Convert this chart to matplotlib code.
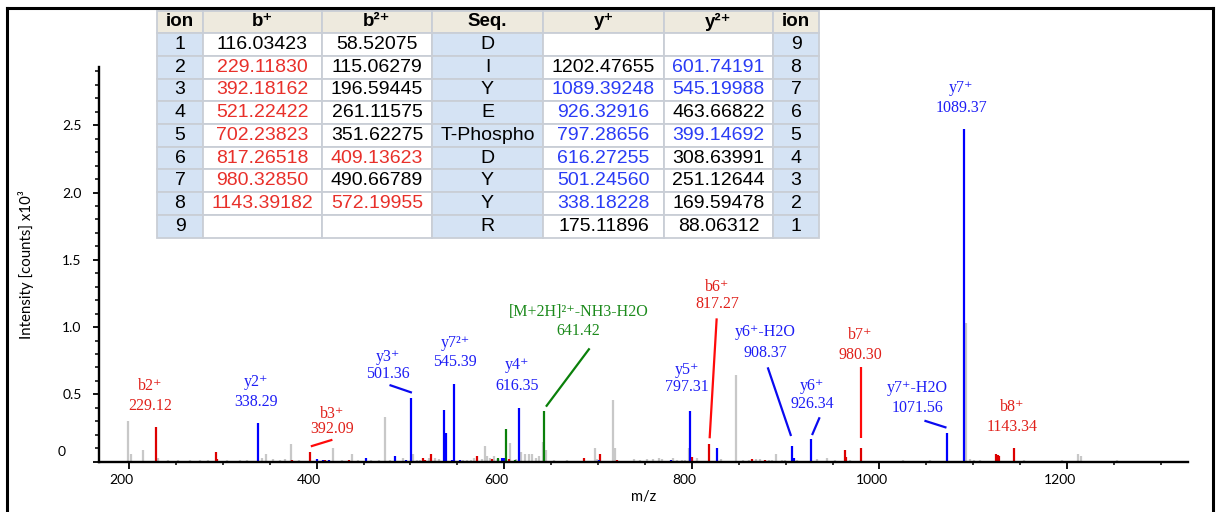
import matplotlib
matplotlib.use('Agg')
import matplotlib.pyplot as plt
from matplotlib.lines import Line2D
from matplotlib.ticker import MultipleLocator, FixedLocator

# ---------------- data ----------------
gray_mz = [199.3, 201.8, 215.3, 231, 241.6, 252, 265, 276, 284, 304, 318, 325.5, 342, 346, 354, 361, 366,
           372.8, 381.7, 417.3, 427, 438, 444.6, 457.8, 466, 473.4, 477.7, 492.6, 502.6, 507, 510.4, 519.6,
           526.4, 530, 556, 560, 565, 567.3, 576, 579.7, 582, 585, 589.3, 606.4, 612.8, 618, 622.4, 626,
           629.6, 634, 636.6, 640.9, 644.5, 652.6, 666.9, 696.4, 698.9, 716, 718.4, 738, 745, 752, 759,
           764.6, 768, 780, 784, 789.5, 793, 796.6, 805.6, 831, 847, 855, 860.6, 868.8, 872.3, 882, 885.5,
           889.8, 896, 899.7, 912, 933.5, 944.2, 953, 969, 1025.3, 1053.7, 1092.3, 1096.3, 1100.6, 1107,
           1154, 1194.9, 1212, 1214.4, 1253.5]
gray_int = [0.305, 0.057, 0.087, 0.025, 0.015, 0.012, 0.015, 0.012, 0.015, 0.015, 0.012, 0.015, 0.025, 0.057,
            0.02, 0.015, 0.02, 0.131, 0.015, 0.10, 0.015, 0.055, 0.01, 0.01, 0.012, 0.335, 0.015, 0.025,
            0.057, 0.015, 0.015, 0.03, 0.03, 0.02, 0.015, 0.015, 0.015, 0.025, 0.02, 0.117, 0.04, 0.03, 0.04,
            0.137, 0.02, 0.074, 0.057, 0.057, 0.057, 0.03, 0.04, 0.15, 0.087, 0.01, 0.01, 0.10, 0.02, 0.458,
            0.10, 0.02, 0.015, 0.02, 0.02, 0.025, 0.02, 0.03, 0.015, 0.015, 0.015, 0.10, 0.025, 0.02, 0.645,
            0.015, 0.015, 0.02, 0.02, 0.015, 0.015, 0.055, 0.015, 0.015, 0.015, 0.02, 0.025, 0.01, 0.015,
            0.01, 0.01, 1.03, 0.02, 0.015, 0.015, 0.01, 0.01, 0.057, 0.045, 0.01]

red_mz = [228.5, 292.5, 294, 373.5, 393, 408.7, 434, 513.2, 515.7, 522, 570.9, 586.9, 604.6, 684.6, 702.4,
          720.2, 800.2, 818, 864, 878.4, 963, 964.8, 980.8, 1124.8, 1126.2, 1128, 1143]
red_int = [0.255, 0.07, 0.02, 0.012, 0.07, 0.012, 0.015, 0.025, 0.012, 0.057, 0.04, 0.02, 0.02, 0.025, 0.057,
           0.012, 0.035, 0.13, 0.02, 0.012, 0.087, 0.035, 0.10, 0.057, 0.05, 0.04, 0.10]

blue_mz = [337.3, 400.2, 406.6, 413, 452.8, 484, 495.5, 500.1, 535.3, 537.8, 544.2, 546.3, 553, 593.9, 598,
           599, 600, 615.7, 700.6, 778, 797.7, 826.9, 906.9, 908.6, 927.1, 1071.8, 1090]
blue_int = [0.285, 0.02, 0.012, 0.012, 0.025, 0.04, 0.015, 0.473, 0.384, 0.213, 0.015, 0.58, 0.012, 0.02, 0.025,
            0.025, 0.025, 0.397, 0.015, 0.015, 0.38, 0.10, 0.117, 0.03, 0.166, 0.21, 2.47]

green_mz = [592.9, 602.1, 611, 642.3]
green_int = [0.025, 0.243, 0.01, 0.38]

# annotations: name, value, series, (x, y_name, y_value), leader line
ann_names = ['b2⁺', 'y2⁺', 'b3⁺', 'y3⁺', 'y7²⁺', 'y4⁺', '[M+2H]²⁺-NH3-H2O', 'y5⁺', 'b6⁺',
             'y6⁺-H2O', 'y6⁺', 'b7⁺', 'y7⁺-H2O', 'y7⁺', 'b8⁺']
ann_values = ['229.12', '338.29', '392.09', '501.36', '545.39', '616.35', '641.42', '797.31', '817.27',
              '908.37', '926.34', '980.30', '1071.56', '1089.37', '1143.34']
ann_series = ['b', 'y', 'b', 'y', 'y', 'y', 'm', 'y', 'b', 'y', 'y', 'b', 'y', 'y', 'b']
ann_pos = [(222.4, 0.5625, 0.416), (335.5, 0.593, 0.444), (416.5, 0.354, 0.243), (476.3, 0.778, 0.652),
           (547.7, 0.882, 0.741), (613.9, 0.717, 0.561), (679, 1.114, 0.971), (795.2, 0.681, 0.553),
           (827.2, 1.298, 1.17), (878.4, 0.961, 0.81), (928.5, 0.562, 0.429), (979.7, 0.94, 0.79),
           (1040.5, 0.545, 0.397), (1087.5, 2.774, 2.626), (1141.9, 0.404, 0.26)]
ann_leaders = [None, None, ((393.8, 0.114), (416.8, 0.163)), ((501.6, 0.513), (477.7, 0.57)), None, None,
               ((644.5, 0.409), (691, 0.842)), None, ((819, 0.174), (826.5, 1.065)),
               ((905.8, 0.191), (880.9, 0.701)), ((928.2, 0.198), (936.3, 0.33)),
               ((980.8, 0.174), (980.8, 0.706)), ((1071.5, 0.253), (1048, 0.305)), None, None]

# table
tbl_headers = ['ion', 'b⁺', 'b²⁺', 'Seq.', 'y⁺', 'y²⁺', 'ion']
ion_num = [1, 2, 3, 4, 5, 6, 7, 8, 9]
b_plus = ['116.03423', '229.11830', '392.18162', '521.22422', '702.23823', '817.26518', '980.32850',
          '1143.39182', '']
b_2plus = ['58.52075', '115.06279', '196.59445', '261.11575', '351.62275', '409.13623', '490.66789',
           '572.19955', '']
sequence = ['D', 'I', 'Y', 'E', 'T-Phospho', 'D', 'Y', 'Y', 'R']
y_plus = ['', '1202.47655', '1089.39248', '926.32916', '797.28656', '616.27255', '501.24560', '338.18228',
          '175.11896']
y_2plus = ['', '601.74191', '545.19988', '463.66822', '399.14692', '308.63991', '251.12644', '169.59478',
           '88.06312']
ion_rev = [9, 8, 7, 6, 5, 4, 3, 2, 1]
b_plus_matched = [2, 3, 4, 5, 6, 7, 8]
b_2plus_matched = [6, 8]
y_plus_matched = [7, 6, 5, 4, 3, 2]
y_2plus_matched = [8, 7, 5]

x_ticks = [200, 400, 600, 800, 1000, 1200]
y_ticks = [0.5, 1.0, 1.5, 2.0, 2.5]

# ---------------- styles ----------------
W, H = 1221, 512
SERIF = ['Liberation Serif', 'DejaVu Serif']
SANS = ['Liberation Sans', 'DejaVu Sans']
AXF = ['Lato', 'DejaVu Sans']
bar_col = {'b': '#DD0000', 'y': '#0000FF', 'm': '#0A800A', 'g': '#C8C8C8'}
txt_col = {'b': '#E0201A', 'y': '#1E1EF5', 'm': '#1C8A1C'}
line_col = {'b': '#FF0A0A', 'y': '#0A0AF0', 'm': '#0A800A'}
tbl_red = '#E8302A'
tbl_blue = '#2A3CF5'

fig = plt.figure(figsize=(W / 100, H / 100), dpi=100)


def fx(px):
    return px / W


def fy(py):
    return 1 - py / H


ax = fig.add_axes([fx(99.3), fy(461.7), (1188 - 99.3) / W, (461.7 - 66.7) / H])
ax.set_xlim(168.3, 1329)
ax.set_ylim(0, 2.935)
for s in ['top', 'right']:
    ax.spines[s].set_visible(False)
for s in ['left', 'bottom']:
    ax.spines[s].set_linewidth(1.7)
    ax.spines[s].set_zorder(5)

lw = 1.6
ax.vlines(gray_mz, 0, gray_int, colors=bar_col['g'], linewidth=lw, zorder=2)
ax.vlines(red_mz, 0, red_int, colors=bar_col['b'], linewidth=lw, zorder=3)
ax.vlines(blue_mz, 0, blue_int, colors=bar_col['y'], linewidth=lw, zorder=3)
ax.vlines(green_mz, 0, green_int, colors=bar_col['m'], linewidth=lw, zorder=3)

for name, val, ser, pos, ld in zip(ann_names, ann_values, ann_series, ann_pos, ann_leaders):
    x, yn, yv = pos
    ax.text(x, yn, name, color=txt_col[ser], fontsize=11.5, family=SERIF, ha='center', va='center')
    ax.text(x, yv, val, color=txt_col[ser], fontsize=11.5, family=SERIF, ha='center', va='center')
    if ld is not None:
        (x0, y0), (x1, y1) = ld
        ax.plot([x0, x1], [y0, y1], color=line_col[ser], linewidth=1.6, solid_capstyle='butt', zorder=4)

# ticks
ax.xaxis.set_major_locator(FixedLocator(x_ticks))
ax.xaxis.set_minor_locator(MultipleLocator(50))
ax.tick_params(axis='x', which='major', length=5, width=1.3, direction='out', labelbottom=False)
ax.tick_params(axis='x', which='minor', length=2.5, width=1.1, direction='out')
ax.set_yticks([0] + y_ticks)
ax.set_yticklabels([''] + ['%.1f' % v for v in y_ticks])
ax.yaxis.set_minor_locator(MultipleLocator(0.1))
ax.tick_params(axis='y', which='major', length=4.3, width=1.3, direction='out', pad=8.5, labelsize=10)
ax.tick_params(axis='y', which='minor', length=2.7, width=1.1, direction='out')
for lbl in ax.get_yticklabels():
    lbl.set_family(AXF)
for v in x_ticks:
    ax.annotate(str(v), xy=(v, 0), xycoords=('data', 'axes fraction'), xytext=(-7.5 * 0.72, -18 * 0.72),
                textcoords='offset points', ha='center', va='center', fontsize=10, family=AXF)
ax.annotate('0', xy=(0, 0), xycoords=('axes fraction', 'data'), xytext=(-37.5 * 0.72, 10 * 0.72),
            textcoords='offset points', ha='center', va='center', fontsize=10, family=AXF)

ax.set_xlabel('m/z', fontsize=10.5, family=AXF)
ax.xaxis.set_label_coords(0.5, -(490 - 461.7) / (461.7 - 66.7))
ax.set_ylabel('Intensity [counts] x10³', fontsize=10.8, family=AXF, va='center')
ax.yaxis.set_label_coords(-(99.3 - 26) / (1188 - 99.3), 0.5)

# frame
for xs, ys in [([7, 7], [512, 7.5]), ([7, 1213], [7.5, 7.5]), ([1213, 1213], [7.5, 512])]:
    fig.add_artist(Line2D([fx(v) for v in xs], [fy(v) for v in ys], color='black', linewidth=2.2,
                          transform=fig.transFigure))

# table
tax = fig.add_axes([fx(157), fy(237.5), (819 - 157) / W, (237.5 - 10.5) / H])
tax.axis('off')
rows = [[str(a), b, c, d, e, f, str(g)] for a, b, c, d, e, f, g in
        zip(ion_num, b_plus, b_2plus, sequence, y_plus, y_2plus, ion_rev)]
col_w = [46, 119, 110, 111, 121, 109, 46]
tot = sum(col_w)
tbl = tax.table(cellText=rows, colLabels=tbl_headers, colWidths=[w / tot for w in col_w],
                cellLoc='center', bbox=[0, 0, 1, 1])
tbl.auto_set_font_size(False)
tbl.set_fontsize(14)
hdr_bg = '#EEEADE'
blue_bg = '#D5E3F4'
for (r, c), cell in tbl.get_celld().items():
    cell.set_edgecolor('#C9CED6')
    cell.set_linewidth(1.3)
    t = cell.get_text()
    t.set_fontfamily(SANS)
    t.set_color('black')
    if r == 0:
        cell.set_facecolor(hdr_bg)
        t.set_fontweight('bold')
        t.set_fontsize(13.5)
        continue
    ion = ion_num[r - 1]
    rion = ion_rev[r - 1]
    if c in (0, 3, 6):
        cell.set_facecolor(blue_bg)
    else:
        cell.set_facecolor('white')
    if c == 1 and ion in b_plus_matched:
        t.set_color(tbl_red)
    if c == 2 and ion in b_2plus_matched:
        t.set_color(tbl_red)
    if c == 4 and rion in y_plus_matched:
        t.set_color(tbl_blue)
    if c == 5 and rion in y_2plus_matched:
        t.set_color(tbl_blue)

fig.savefig('out.png', dpi=100)
